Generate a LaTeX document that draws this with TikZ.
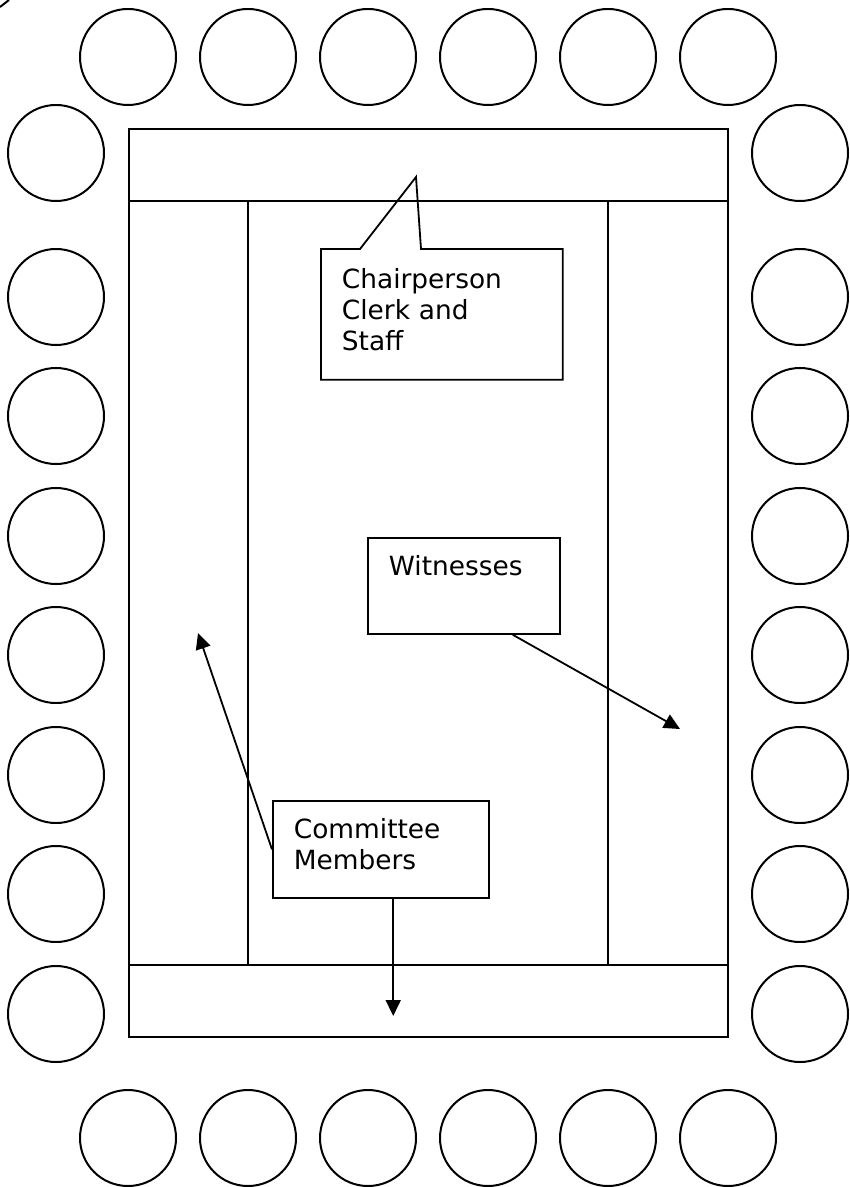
\documentclass[tikz,border=0pt]{standalone}
\usepackage{fontspec}
\setmainfont{DejaVu Sans}
\usepackage{tikz}
\usetikzlibrary{arrows.meta}

\begin{document}
\begin{tikzpicture}[x=0.5pt, y=-0.5pt, line width=0.9pt,
	every node/.style={font=\fontsize{13.2}{15.5}\selectfont},
	seat/.style={line width=1pt},
	labelbox/.style={draw, anchor=north west, align=left, inner ysep=0pt, inner xsep=10.5pt, text height=19pt},
	>={Triangle[length=8pt, width=7.5pt]}]
	\useasboundingbox (0,0) rectangle (850,1187);
	% seats round the room
	\foreach \x in {128,248,...,728} {
		\draw[seat] (\x,57) circle (48);
		\draw[seat] (\x,1138) circle (48);
	}
	\foreach \y in {153,297,416,536,655,775,894,1014} {
		\draw[seat] (56,\y) circle (48);
		\draw[seat] (800,\y) circle (48);
	}
	\draw[seat] (0,7) -- (9,0);
	% tables
	\draw (129,129) rectangle (728,1037);
	\draw (129,201) -- (728,201);
	\draw (129,965) -- (728,965);
	\draw (248,201) -- (248,965);
	\draw (608,201) -- (608,965);
	% labels
	\node[anchor=north west, align=left, inner sep=0pt, inner xsep=10pt, text width=100pt, text height=19.5pt, text depth=45pt] (chair) at (321,249) {Chairperson\\Clerk and\\Staff};
	\coordinate (chairTip) at (416,177);
	\draw (chair.north west) -- (360,249) -- (chairTip) -- (421,249) -- (chair.north east) -- (chair.south east) -- (chair.south west) -- cycle;
	\node[labelbox, text width=75pt, text depth=29pt] (witness) at (367,537) {Witnesses};
	\node[labelbox, text width=87pt, text depth=29.5pt] (members) at (272,800) {Committee\\Members};
	\coordinate (witnessTip) at (680,729);
	\coordinate (leftTip) at (198,633);
	\coordinate (downTip) at (392,1016);
	\draw[->] (witness.-45) -- (witnessTip);
	\draw[->] (members.west) -- (leftTip);
	\draw[->] (members.-76) -- (members.-76 |- downTip);
\end{tikzpicture}
\end{document}
